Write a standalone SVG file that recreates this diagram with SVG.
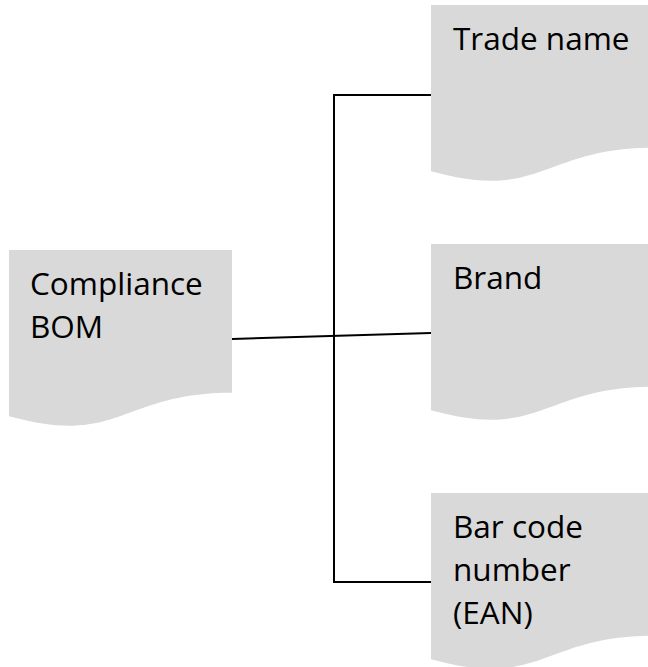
<svg xmlns="http://www.w3.org/2000/svg" xmlns:xlink="http://www.w3.org/1999/xlink" width="648" height="667" viewBox="0 0 648 667">
  <style>
    .doc { fill: #d9d9d9; stroke: none; }
    .label { font-family: "Open Sans", "Liberation Sans", sans-serif; font-size: 31.5px; fill: #000000; }
    .wire { fill: none; stroke: #000000; stroke-width: 2; }
  </style>
  <defs>
    <!-- document shape with wavy bottom edge, 223 x 178 -->
    <path id="docShape" class="doc" d="M0,0 H223 V142.7 C111.5,142.7 111.5,197.1 0,166.2 Z"/>
  </defs>

  <g id="connectors">
    <path class="wire" d="M431,95 H334 V582 H431"/>
    <line class="wire" x1="232" y1="339" x2="431" y2="333"/>
  </g>

  <g id="compliance-bom">
    <use xlink:href="#docShape" x="9" y="250"/>
    <text class="label" x="30" y="295">Compliance</text>
    <text class="label" x="30" y="338">BOM</text>
  </g>

  <g id="trade-name">
    <use xlink:href="#docShape" x="431" y="5"/>
    <text class="label" x="453" y="50">Trade name</text>
  </g>

  <g id="brand">
    <use xlink:href="#docShape" x="431" y="244"/>
    <text class="label" x="453" y="289">Brand</text>
  </g>

  <g id="bar-code">
    <use xlink:href="#docShape" x="431" y="493"/>
    <text class="label" x="453" y="538">Bar code</text>
    <text class="label" x="453" y="581">number</text>
    <text class="label" x="453" y="624">(EAN)</text>
  </g>
</svg>
